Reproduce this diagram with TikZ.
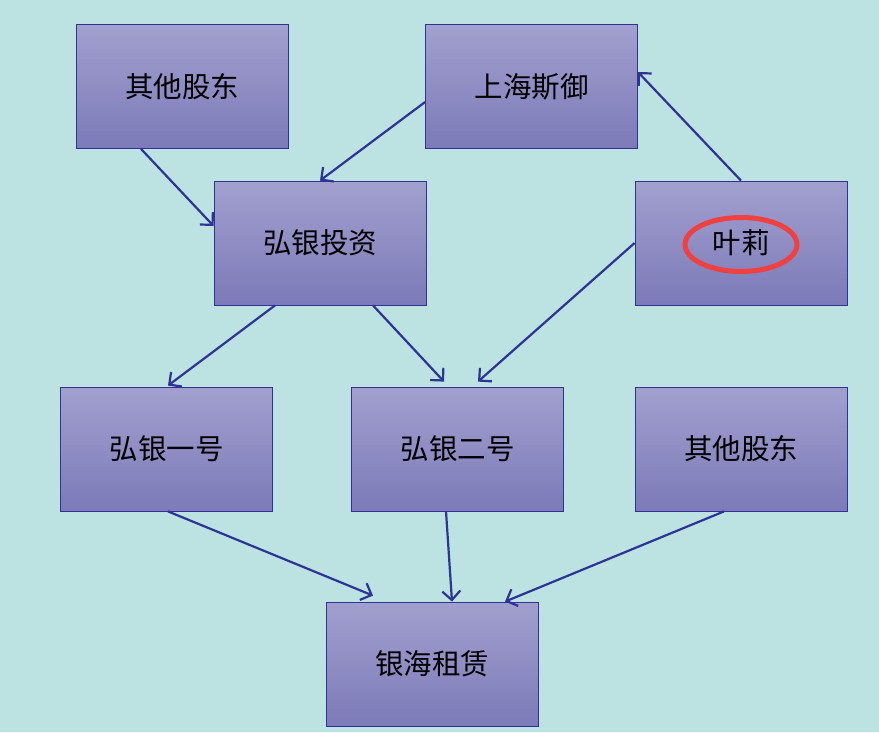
\documentclass[tikz,border=0pt]{standalone}
\usepackage{fontspec}
\newfontfamily\cjk{Noto Sans CJK SC}
\usetikzlibrary{arrows.meta}
\definecolor{bgc}{RGB}{188,226,226}
\definecolor{boxtop}{RGB}{162,160,206}
\definecolor{boxbot}{RGB}{124,122,184}
\definecolor{edgec}{RGB}{50,50,150}
\definecolor{arrc}{RGB}{46,52,150}
\definecolor{ringc}{RGB}{240,64,64}
\tikzset{
  entity/.style={draw=edgec, line width=0.8pt, top color=boxtop, bottom color=boxbot,
    minimum width=212pt, minimum height=124pt, inner sep=0pt,
    font=\cjk\fontsize{28.5}{32}\selectfont, text=black},
  link/.style={draw=arrc, line width=2.2pt, -{Straight Barb[length=9pt,width=18pt,line width=2.2pt]}}
}
\begin{document}
\begin{tikzpicture}[x=1pt,y=1pt]
\fill[bgc] (0,0) rectangle (879,-732);
\useasboundingbox (0,0) rectangle (879,-732);
\node[entity] (ot)  at (182,-86.5) {其他股东};
\node[entity] (sh)  at (531.5,-86.5) {上海斯御};
\node[entity] (hy)  at (320,-243) {弘银投资};
\node[entity] (yl)  at (741,-243) {叶莉};
\node[entity] (h1)  at (166.5,-449) {弘银一号};
\node[entity] (h2)  at (457.5,-449) {弘银二号};
\node[entity] (ot2) at (741,-449) {其他股东};
\node[entity] (yh)  at (432,-664) {银海租赁};
\draw[draw=ringc, line width=5pt] (yl.center) ++(0,-1.5) ellipse [x radius=56pt, y radius=27pt];
\draw[link] ([xshift=-41pt]ot.south) -- ([yshift=17pt]hy.west);
\draw[link] ([yshift=-15.5pt]sh.west) -- (hy.north);
\draw[link] (yl.north) -- ([yshift=14.5pt]sh.east);
\draw[link] (yl.west) -- ([xshift=20.5pt,yshift=5pt]h2.north);
\draw[link] ([xshift=-45pt]hy.south) -- ([xshift=1.5pt,yshift=1pt]h1.north);
\draw[link] ([xshift=53pt]hy.south) -- ([xshift=-13.5pt,yshift=5pt]h2.north);
\draw[link] ([xshift=1.5pt]h1.south) -- ([xshift=-59pt,yshift=6pt]yh.north);
\draw[link] ([xshift=-11.5pt]h2.south) -- ([xshift=20pt]yh.north);
\draw[link] ([xshift=-17pt]ot2.south) -- ([xshift=73pt]yh.north);
\end{tikzpicture}
\end{document}
